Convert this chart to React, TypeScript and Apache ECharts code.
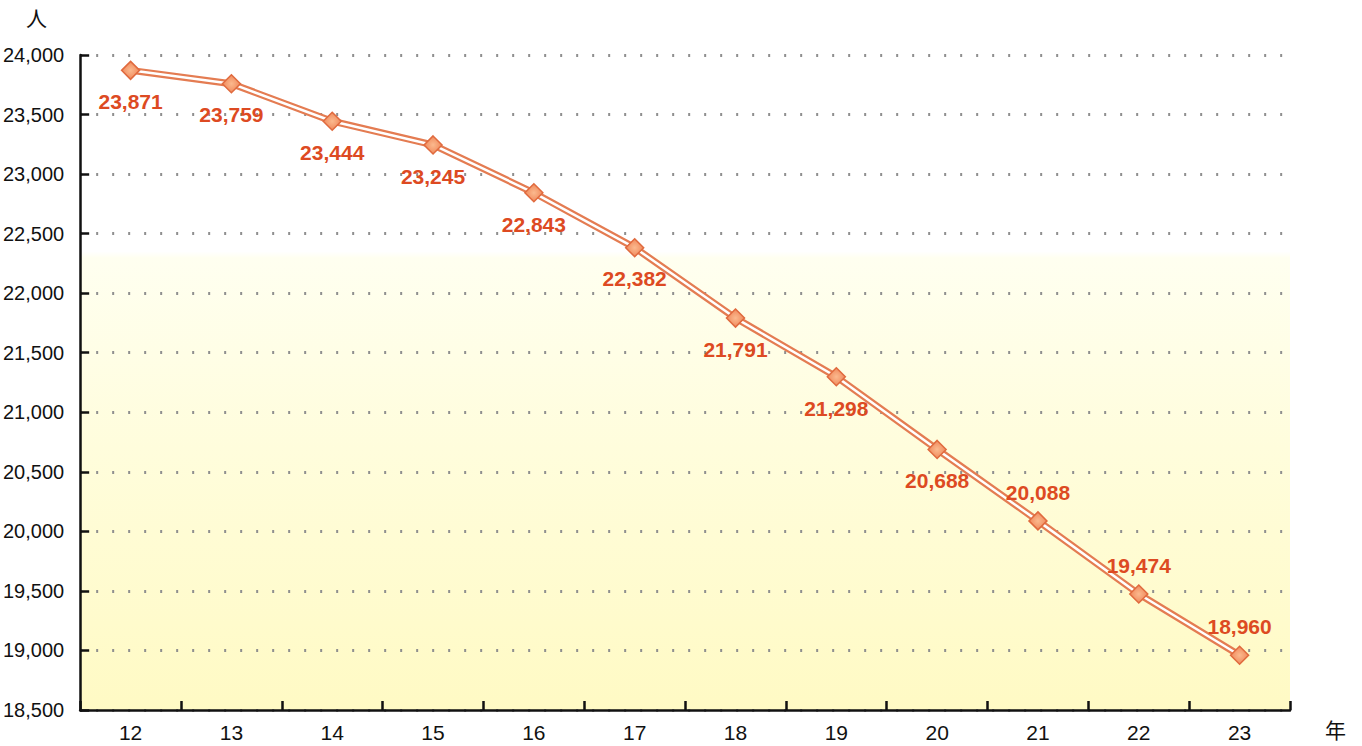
import React, { useEffect, useRef } from "react";
import * as echarts from "echarts";

const years = ["12", "13", "14", "15", "16", "17", "18", "19", "20", "21", "22", "23"];
const population = [23871, 23759, 23444, 23245, 22843, 22382, 21791, 21298, 20688, 20088, 19474, 18960];
const labelAbove = [false, false, false, false, false, false, false, false, false, true, true, true];
const yMin = 18500;
const yMax = 24000;
const yStep = 500;

const fmt = (v: number) => v.toLocaleString("en-US");

export default function App() {
  const ref = useRef<HTMLDivElement>(null);
  useEffect(() => {
    if (!ref.current) return;
    const chart = echarts.init(ref.current, null, { renderer: "svg" });
    const font = "'Liberation Sans', Arial, sans-serif";
    const pointData = population.map((v, i) => ({
      value: v,
      label: {
        position: labelAbove[i] ? "top" : "bottom",
        distance: labelAbove[i] ? 8 : 11,
      },
    }));
    chart.setOption({
      animation: false,
      backgroundColor: "#ffffff",
      grid: {
        left: 80,
        right: 72,
        top: 55,
        bottom: 36,
        show: true,
        borderWidth: 0,
        backgroundColor: new echarts.graphic.LinearGradient(0, 0, 0, 1, [
          { offset: 0, color: "#ffffff" },
          { offset: 0.3, color: "#ffffff" },
          { offset: 0.31, color: "#fffff0" },
          { offset: 0.6, color: "#fffddc" },
          { offset: 1, color: "#fffac4" },
        ]),
      },
      xAxis: {
        type: "category",
        data: years,
        boundaryGap: true,
        axisLine: { lineStyle: { color: "#111", width: 2.5 } },
        axisTick: { show: true, inside: true, length: 9, lineStyle: { color: "#111", width: 2.5 } },
        axisLabel: { color: "#111", fontSize: 21, fontFamily: font, margin: 12 },
        splitLine: { show: false },
      },
      yAxis: {
        type: "value",
        min: yMin,
        max: yMax,
        interval: yStep,
        axisLine: { show: true, lineStyle: { color: "#111", width: 2.5 } },
        axisTick: { show: true, inside: true, length: 9, lineStyle: { color: "#111", width: 2.5 } },
        axisLabel: { color: "#111", fontSize: 20, fontFamily: font, margin: 16, formatter: (v: number) => fmt(v) },
        splitLine: { show: true, lineStyle: { color: "#8f8f8f", width: 3, type: [2, 14] } },
      },
      series: [
        {
          type: "line",
          data: population,
          symbol: "none",
          silent: true,
          lineStyle: { color: "#e47c52", width: 7 },
          z: 2,
        },
        {
          type: "line",
          data: pointData,
          symbol: "diamond",
          symbolSize: 18,
          itemStyle: {
            color: new echarts.graphic.RadialGradient(0.5, 0.5, 0.6, [
              { offset: 0, color: "#fbb98e" },
              { offset: 1, color: "#ee8052" },
            ]),
            borderColor: "#e06a3e",
            borderWidth: 1.5,
          },
          lineStyle: { color: "#ffffff", width: 2.5 },
          label: {
            show: true,
            color: "#dd4a22",
            fontSize: 21,
            fontWeight: "bold",
            fontFamily: font,
            formatter: (p: any) => fmt(p.value),
          },
          z: 3,
        },
      ],
      graphic: [
        {
          type: "text",
          left: 26,
          top: 6,
          style: { text: "人", fill: "#111", font: "21px 'Noto Sans CJK JP', sans-serif" },
        },
        {
          type: "text",
          left: 1325,
          top: 718,
          style: { text: "年", fill: "#111", font: "21px 'Noto Sans CJK JP', sans-serif" },
        },
      ],
    });
    return () => chart.dispose();
  }, []);
  return <div ref={ref} style={{ width: 1362, height: 746, position: "absolute", left: 0, top: 0 }} />;
}
